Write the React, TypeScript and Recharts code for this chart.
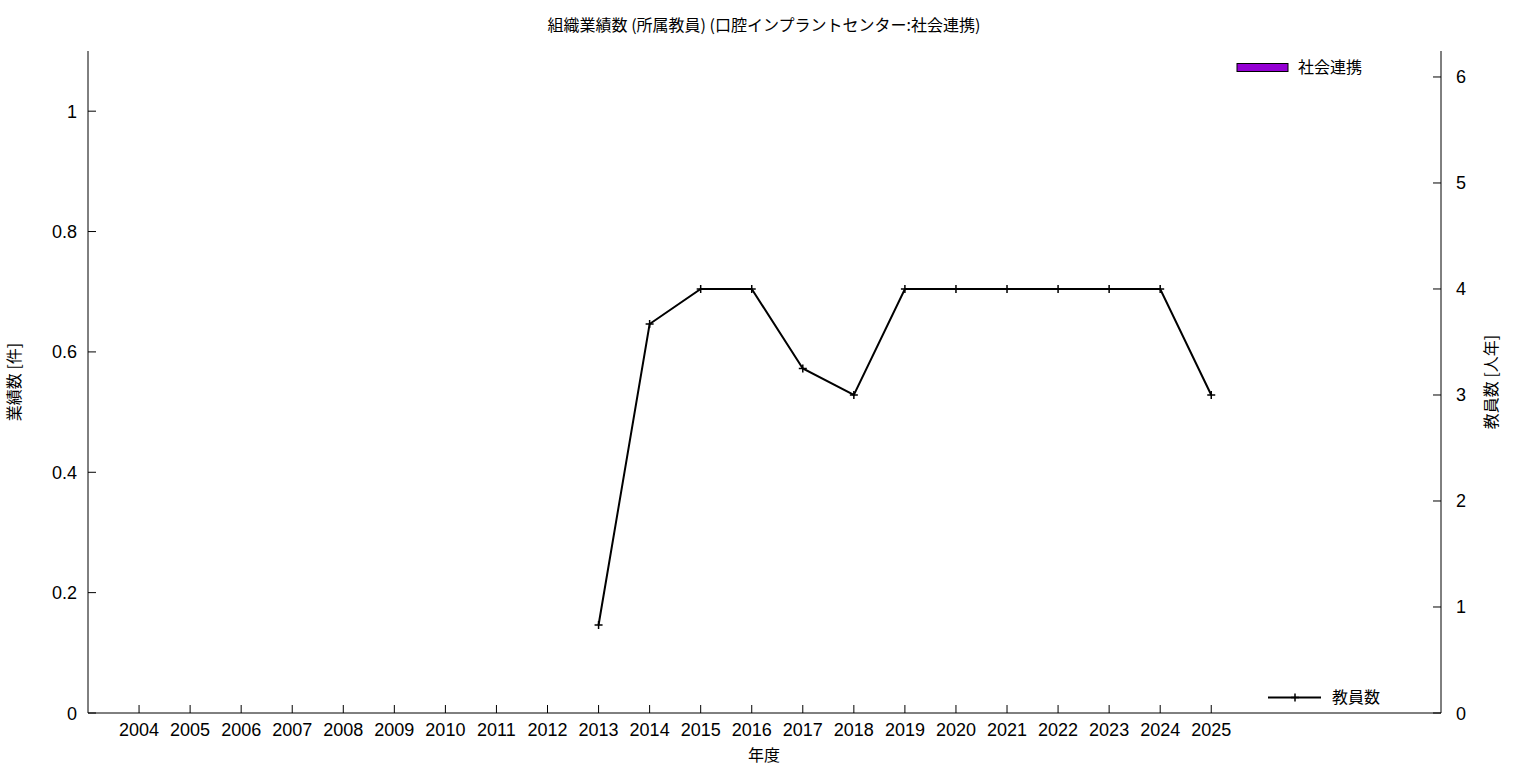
import React from 'react';
import { ComposedChart, Line, Bar, XAxis, YAxis, Customized } from 'recharts';

const years = [2004, 2005, 2006, 2007, 2008, 2009, 2010, 2011, 2012, 2013, 2014, 2015, 2016, 2017, 2018, 2019, 2020, 2021, 2022, 2023, 2024, 2025];
const socialCooperation = [0, 0, 0, 0, 0, 0, 0, 0, 0, 0, 0, 0, 0, 0, 0, 0, 0, 0, 0, 0, 0, 0];
const facultyCount = [null, null, null, null, null, null, null, null, null, 0.83, 3.67, 4, 4, 3.25, 3, 4, 4, 4, 4, 4, 4, 3];
const leftTicks = [0, 0.2, 0.4, 0.6, 0.8, 1];
const rightTicks = [0, 1, 2, 3, 4, 5, 6];

const data = years.map((y, i) => ({ year: y, social: socialCooperation[i], faculty: facultyCount[i] }));

const FONT = '"Liberation Sans", "Noto Sans CJK JP", sans-serif';
const CJK = '"Noto Sans CJK JP", "Liberation Sans", sans-serif';

const BottomTick = (props: any) => {
  const { x, y, payload } = props;
  return (
    <g>
      <line x1={x} y1={y} x2={x} y2={y - 8} stroke="#000" strokeWidth={1} />
      <text x={x} y={y + 23} textAnchor="middle" fontSize={18} fontFamily={FONT} fill="#000">{payload.value}</text>
    </g>
  );
};

const TopTick = (props: any) => {
  const { x, y } = props;
  return <line x1={x} y1={y} x2={x} y2={y + 8} stroke="#000" strokeWidth={1} />;
};

const LeftTick = (props: any) => {
  const { x, y, payload } = props;
  return (
    <g>
      <line x1={x} y1={y} x2={x + 8} y2={y} stroke="#000" strokeWidth={1} />
      <text x={x - 11} y={y + 6.5} textAnchor="end" fontSize={18} fontFamily={FONT} fill="#000">{String(payload.value)}</text>
    </g>
  );
};

const RightTick = (props: any) => {
  const { x, y, payload } = props;
  return (
    <g>
      <line x1={x} y1={y} x2={x - 8} y2={y} stroke="#000" strokeWidth={1} />
      <text x={x + 15} y={y + 6.5} textAnchor="start" fontSize={18} fontFamily={FONT} fill="#000">{String(payload.value)}</text>
    </g>
  );
};

const PlusDot = (props: any) => {
  const { cx, cy, value, index } = props;
  if (value == null || cx == null || cy == null) return <g key={`d${index}`} />;
  return <path key={`d${index}`} d={`M${cx - 4},${cy}H${cx + 4}M${cx},${cy - 4}V${cy + 4}`} stroke="#000" strokeWidth={1.5} fill="none" />;
};

const Decorations = () => (
  <g>
    <text x={764} y={31} textAnchor="middle" fontSize={16} fontFamily={CJK} fill="#000">組織業績数 (所属教員) (口腔インプラントセンター:社会連携)</text>
    <text x={764} y={761} textAnchor="middle" fontSize={16} fontFamily={CJK} fill="#000">年度</text>
    <text transform="translate(20,382) rotate(-90)" textAnchor="middle" fontSize={16} fontFamily={CJK} fill="#000">業績数 [件]</text>
    <text transform="translate(1497,382) rotate(-90)" textAnchor="middle" fontSize={16} fontFamily={CJK} fill="#000">教員数 [人年]</text>
    <rect x={1237} y={63.5} width={51} height={8} fill="#9400D3" stroke="#000" strokeWidth={1} />
    <text x={1298} y={73} fontSize={16} fontFamily={CJK} fill="#000">社会連携</text>
    <line x1={1268} y1={697.5} x2={1321} y2={697.5} stroke="#000" strokeWidth={2} />
    <path d="M1291,697.5H1299M1295,693.5V701.5" stroke="#000" strokeWidth={1.5} />
    <text x={1332} y={703} fontSize={16} fontFamily={CJK} fill="#000">教員数</text>
  </g>
);

export default function App() {
  return (
    <div style={{ position: 'absolute', left: 0, top: 0, background: '#fff' }}>
      <ComposedChart width={1536} height={768} data={data} margin={{ top: 51, right: 0, bottom: 0, left: 0 }}>
        <XAxis xAxisId="bottom" dataKey="year" type="number" domain={[2003, 2029.5]} allowDataOverflow ticks={years} interval={0}
          height={55} tickSize={0} tickMargin={0} tick={<BottomTick />} axisLine={{ stroke: '#000', strokeWidth: 1 }} tickLine={false} />
        <XAxis xAxisId="top" orientation="top" dataKey="year" type="number" domain={[2003, 2029.5]} allowDataOverflow ticks={years} interval={0}
          height={0} tickSize={0} tickMargin={0} tick={<TopTick />} axisLine={{ stroke: '#000', strokeWidth: 1 }} tickLine={false} />
        <YAxis yAxisId="left" orientation="left" type="number" domain={[0, 1.1]} allowDataOverflow ticks={leftTicks} interval={0}
          width={88} tickSize={0} tickMargin={0} tick={<LeftTick />} axisLine={{ stroke: '#000', strokeWidth: 1 }} tickLine={false} />
        <YAxis yAxisId="right" orientation="right" type="number" domain={[0, 6.245]} allowDataOverflow ticks={rightTicks} interval={0}
          width={95} tickSize={0} tickMargin={0} tick={<RightTick />} axisLine={{ stroke: '#000', strokeWidth: 1 }} tickLine={false} />
        <Bar xAxisId="bottom" yAxisId="left" dataKey="social" name="社会連携" fill="#9400D3" barSize={30} isAnimationActive={false} />
        <Line xAxisId="bottom" yAxisId="right" dataKey="faculty" name="教員数" type="linear" stroke="#000" strokeWidth={2}
          dot={(p: any) => <PlusDot {...p} />} activeDot={false} connectNulls={false} isAnimationActive={false} />
        <Customized component={Decorations} />
      </ComposedChart>
    </div>
  );
}
